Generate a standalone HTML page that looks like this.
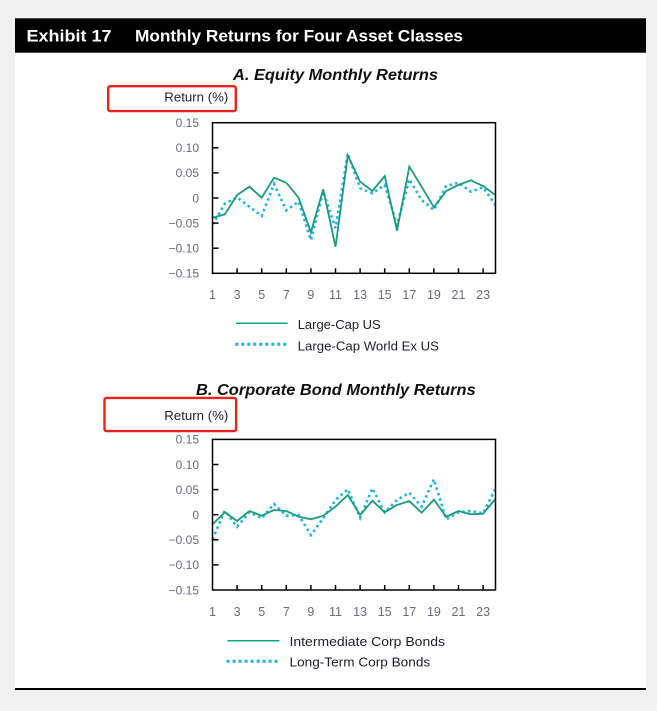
<!DOCTYPE html>
<html>
<head>
<meta charset="utf-8">
<style>
html,body{margin:0;padding:0;background:#f0f0f0;}
svg{display:block;}
text{font-family:"Liberation Sans",sans-serif;}
.tl{font-size:12px;fill:#6a6a7a;}
.xl{font-size:12.5px;fill:#6a6a7a;text-anchor:middle;}
.lg{font-size:13px;fill:#1e1e2a;}
</style>
</head>
<body>
<svg width="657" height="711" viewBox="0 0 657 711" xmlns="http://www.w3.org/2000/svg">
<rect x="0" y="0" width="657" height="711" fill="#f0f0f0"/>
<rect x="15" y="52.7" width="631" height="635.3" fill="#ffffff"/>
<rect x="15" y="18.3" width="631" height="34.4" fill="#000000"/>
<text x="26.5" y="41.7" font-size="17" font-weight="bold" fill="#fff" textLength="85" lengthAdjust="spacingAndGlyphs">Exhibit 17</text>
<text x="135" y="41.7" font-size="17" font-weight="bold" fill="#fff" textLength="328" lengthAdjust="spacingAndGlyphs">Monthly Returns for Four Asset Classes</text>
<rect x="15" y="688" width="631" height="2" fill="#000"/>

<!-- Panel A -->
<text x="233" y="80" font-size="16" font-weight="bold" font-style="italic" fill="#111" textLength="205" lengthAdjust="spacingAndGlyphs">A. Equity Monthly Returns</text>
<rect x="108.2" y="86.2" width="127.6" height="24.9" rx="2" fill="none" stroke="#e8231c" stroke-width="2.4"/>
<text x="164.3" y="101.7" class="lg" textLength="64" lengthAdjust="spacingAndGlyphs">Return (%)</text>

<g class="tl" text-anchor="end">
<text x="199" y="127">0.15</text>
<text x="199" y="152.1">0.10</text>
<text x="199" y="177.2">0.05</text>
<text x="199" y="202.3">0</text>
<text x="199" y="227.4">−0.05</text>
<text x="199" y="252.5">−0.10</text>
<text x="199" y="277.6">−0.15</text>
</g>
<g class="xl">
<text x="212.5" y="299">1</text><text x="237.1" y="299">3</text><text x="261.7" y="299">5</text><text x="286.3" y="299">7</text><text x="310.9" y="299">9</text><text x="335.5" y="299">11</text><text x="360.1" y="299">13</text><text x="384.7" y="299">15</text><text x="409.3" y="299">17</text><text x="433.9" y="299">19</text><text x="458.5" y="299">21</text><text x="483.1" y="299">23</text>
</g>

<polyline fill="none" stroke="#1cb4e8" stroke-width="2.6" stroke-dasharray="2.5 3.2" points="212.5,224.5 224.8,203.7 237.1,197.3 249.4,206.7 261.7,216 274,184 286.3,210.3 298.6,201.7 310.9,240 323.2,191.7 335.5,228 347.8,153.5 360.1,188.3 372.4,193.3 384.7,185 397,225 409.3,179.3 421.6,200 433.9,210 446.2,186 458.5,182.7 470.8,191.7 483.1,187.3 495.4,205"/>
<polyline fill="none" stroke="#1a9c7a" stroke-width="1.8" stroke-linejoin="miter" points="212.5,217.7 224.8,214.3 237.1,195 249.4,186.7 261.7,197.7 274,177.7 286.3,182.7 298.6,197.7 310.9,232.3 323.2,189.3 335.5,246.7 347.8,155.5 360.1,181.7 372.4,191 384.7,176 397,230.7 409.3,166.7 421.6,186.7 433.9,207.3 446.2,191 458.5,185 470.8,180.3 483.1,186 495.4,195"/>

<rect x="212.5" y="122.7" width="283" height="150.6" fill="none" stroke="#000" stroke-width="1.5"/>
<g stroke="#000" stroke-width="1.5">
<line x1="212.5" y1="147.8" x2="218.5" y2="147.8"/>
<line x1="212.5" y1="172.9" x2="218.5" y2="172.9"/>
<line x1="212.5" y1="198" x2="218.5" y2="198"/>
<line x1="212.5" y1="223.1" x2="218.5" y2="223.1"/>
<line x1="212.5" y1="248.2" x2="218.5" y2="248.2"/>
<line x1="237.1" y1="273.3" x2="237.1" y2="268.3"/><line x1="261.7" y1="273.3" x2="261.7" y2="268.3"/><line x1="286.3" y1="273.3" x2="286.3" y2="268.3"/><line x1="310.9" y1="273.3" x2="310.9" y2="268.3"/><line x1="335.5" y1="273.3" x2="335.5" y2="268.3"/><line x1="360.1" y1="273.3" x2="360.1" y2="268.3"/><line x1="384.7" y1="273.3" x2="384.7" y2="268.3"/><line x1="409.3" y1="273.3" x2="409.3" y2="268.3"/><line x1="433.9" y1="273.3" x2="433.9" y2="268.3"/><line x1="458.5" y1="273.3" x2="458.5" y2="268.3"/><line x1="483.1" y1="273.3" x2="483.1" y2="268.3"/>
</g>

<line x1="236" y1="323.3" x2="287.7" y2="323.3" stroke="#00a88a" stroke-width="1.5"/>
<text x="297.7" y="329" class="lg" textLength="83" lengthAdjust="spacingAndGlyphs">Large-Cap US</text>
<line x1="235.3" y1="344.3" x2="287" y2="344.3" stroke="#13b5e6" stroke-width="3" stroke-dasharray="3 3"/>
<text x="297.7" y="350.7" class="lg" textLength="141.3" lengthAdjust="spacingAndGlyphs">Large-Cap World Ex US</text>

<!-- Panel B -->
<text x="196" y="395" font-size="16" font-weight="bold" font-style="italic" fill="#111" textLength="279.7" lengthAdjust="spacingAndGlyphs">B. Corporate Bond Monthly Returns</text>
<rect x="104.5" y="397.9" width="131.6" height="33.2" rx="2" fill="none" stroke="#e8231c" stroke-width="2.4"/>
<text x="164.3" y="420" class="lg" textLength="64" lengthAdjust="spacingAndGlyphs">Return (%)</text>

<g class="tl" text-anchor="end">
<text x="199" y="443.7">0.15</text>
<text x="199" y="468.8">0.10</text>
<text x="199" y="493.9">0.05</text>
<text x="199" y="519">0</text>
<text x="199" y="544.1">−0.05</text>
<text x="199" y="569.2">−0.10</text>
<text x="199" y="594.3">−0.15</text>
</g>
<g class="xl">
<text x="212.5" y="616">1</text><text x="237.1" y="616">3</text><text x="261.7" y="616">5</text><text x="286.3" y="616">7</text><text x="310.9" y="616">9</text><text x="335.5" y="616">11</text><text x="360.1" y="616">13</text><text x="384.7" y="616">15</text><text x="409.3" y="616">17</text><text x="433.9" y="616">19</text><text x="458.5" y="616">21</text><text x="483.1" y="616">23</text>
</g>

<polyline fill="none" stroke="#1cb4e8" stroke-width="2.6" stroke-dasharray="2.5 3.2" points="212.5,539.3 224.8,510.7 237.1,526.7 249.4,512.3 261.7,518.3 274,504 286.3,515.7 298.6,515 310.9,535 323.2,518.3 335.5,500 347.8,489.3 360.1,517.7 372.4,488.3 384.7,512.3 397,500 409.3,492.7 421.6,506.7 433.9,479.3 446.2,519.3 458.5,512.3 470.8,511 483.1,513.3 495.4,489"/>
<polyline fill="none" stroke="#1a9c7a" stroke-width="1.8" points="212.5,524.3 224.8,512.3 237.1,521 249.4,511 261.7,515.7 274,510 286.3,511 298.6,516.7 310.9,519.3 323.2,515.7 335.5,506.7 347.8,495 360.1,515 372.4,500.7 384.7,512.3 397,505 409.3,501 421.6,512.7 433.9,499.7 446.2,516.7 458.5,511 470.8,514.3 483.1,513.7 495.4,499"/>

<rect x="212.5" y="439.4" width="283" height="150.6" fill="none" stroke="#000" stroke-width="1.5"/>
<g stroke="#000" stroke-width="1.5">
<line x1="212.5" y1="464.5" x2="218.5" y2="464.5"/>
<line x1="212.5" y1="489.6" x2="218.5" y2="489.6"/>
<line x1="212.5" y1="514.7" x2="218.5" y2="514.7"/>
<line x1="212.5" y1="539.8" x2="218.5" y2="539.8"/>
<line x1="212.5" y1="564.9" x2="218.5" y2="564.9"/>
<line x1="237.1" y1="590" x2="237.1" y2="585"/><line x1="261.7" y1="590" x2="261.7" y2="585"/><line x1="286.3" y1="590" x2="286.3" y2="585"/><line x1="310.9" y1="590" x2="310.9" y2="585"/><line x1="335.5" y1="590" x2="335.5" y2="585"/><line x1="360.1" y1="590" x2="360.1" y2="585"/><line x1="384.7" y1="590" x2="384.7" y2="585"/><line x1="409.3" y1="590" x2="409.3" y2="585"/><line x1="433.9" y1="590" x2="433.9" y2="585"/><line x1="458.5" y1="590" x2="458.5" y2="585"/><line x1="483.1" y1="590" x2="483.1" y2="585"/>
</g>

<line x1="227.5" y1="640.7" x2="279.4" y2="640.7" stroke="#00a88a" stroke-width="1.5"/>
<text x="289.5" y="646" class="lg" textLength="155.5" lengthAdjust="spacingAndGlyphs">Intermediate Corp Bonds</text>
<line x1="226.6" y1="661.3" x2="278.3" y2="661.3" stroke="#13b5e6" stroke-width="3" stroke-dasharray="3 3"/>
<text x="289.5" y="666.7" class="lg" textLength="140.7" lengthAdjust="spacingAndGlyphs">Long-Term Corp Bonds</text>
</svg>
</body>
</html>
